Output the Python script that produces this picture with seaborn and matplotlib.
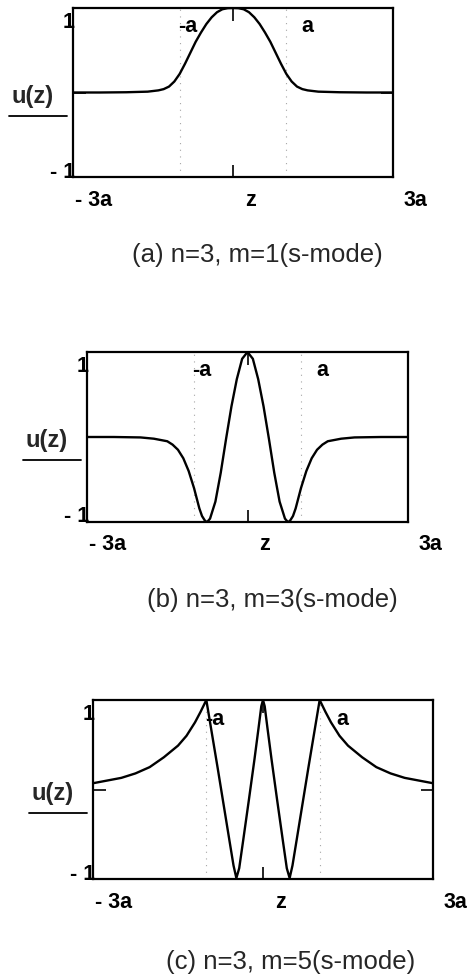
import matplotlib
matplotlib.use("Agg")
import matplotlib.pyplot as plt
import pandas as pd
import seaborn as sns

# Mode profiles u(z) on -3a..3a, z in units of a
z_a = [-3.0, -2.5, -2.0, -1.6, -1.4, -1.3, -1.2, -1.1, -1.0, -0.9, -0.8, -0.7, -0.6,
       -0.5, -0.4, -0.3, -0.2, -0.1, 0.0, 0.1, 0.2, 0.3, 0.4, 0.5, 0.6, 0.7, 0.8, 0.9,
       1.0, 1.1, 1.2, 1.3, 1.4, 1.6, 2.0, 2.5, 3.0]
u_a = [0.0, 0.0, 0.003, 0.01, 0.025, 0.04, 0.07, 0.13, 0.22, 0.34, 0.47, 0.60, 0.71,
       0.81, 0.89, 0.95, 0.985, 0.998, 1.0, 0.998, 0.985, 0.95, 0.89, 0.81, 0.71, 0.60,
       0.47, 0.34, 0.22, 0.13, 0.07, 0.04, 0.025, 0.01, 0.003, 0.0, 0.0]

z_b = [-3.0, -2.5, -2.0, -1.75, -1.5, -1.4, -1.3, -1.2, -1.1, -1.0, -0.9, -0.85, -0.8,
       -0.77, -0.74, -0.7, -0.6, -0.5, -0.4, -0.3, -0.2, -0.1, 0.0, 0.1, 0.2, 0.3, 0.4,
       0.5, 0.6, 0.7, 0.74, 0.77, 0.8, 0.85, 0.9, 1.0, 1.1, 1.2, 1.3, 1.4, 1.5, 1.75,
       2.0, 2.5, 3.0]
u_b = [0.0, 0.0, -0.005, -0.02, -0.05, -0.09, -0.15, -0.25, -0.40, -0.60, -0.84, -0.93,
       -0.98, -1.0, -0.99, -0.96, -0.76, -0.42, -0.02, 0.36, 0.68, 0.92, 1.0, 0.92, 0.68,
       0.36, -0.02, -0.42, -0.76, -0.96, -0.99, -1.0, -0.98, -0.93, -0.84, -0.60, -0.40,
       -0.25, -0.15, -0.09, -0.05, -0.02, -0.005, 0.0, 0.0]

z_c = [-3.0, -2.75, -2.5, -2.25, -2.0, -1.75, -1.5, -1.35, -1.2, -1.1, -1.0, -0.9, -0.8,
       -0.7, -0.6, -0.52, -0.47, -0.42, -0.35, -0.25, -0.15, -0.08, -0.03, 0.0, 0.03,
       0.08, 0.15, 0.25, 0.35, 0.42, 0.47, 0.52, 0.6, 0.7, 0.8, 0.9, 1.0, 1.1, 1.2, 1.35,
       1.5, 1.75, 2.0, 2.25, 2.5, 2.75, 3.0]
u_c = [0.07, 0.10, 0.13, 0.18, 0.25, 0.36, 0.49, 0.60, 0.75, 0.87, 1.0, 0.62, 0.24,
       -0.15, -0.54, -0.85, -0.99, -0.88, -0.57, -0.12, 0.34, 0.68, 0.93, 1.0, 0.93, 0.68,
       0.34, -0.12, -0.57, -0.88, -0.99, -0.85, -0.54, -0.15, 0.24, 0.62, 1.0, 0.87, 0.75,
       0.60, 0.49, 0.36, 0.25, 0.18, 0.13, 0.10, 0.07]

captions = ["(a) n=3, m=1(s-mode)", "(b) n=3, m=3(s-mode)", "(c) n=3, m=5(s-mode)"]
x_tick_labels = ["- 3a", "z", "3a"]
y_tick_labels = ["1", "- 1"]
marker_labels = ["-a", "a"]
marker_positions = [-1.0, 1.0]
y_title = "u(z)"

sns.set_theme(style="white")
plt.rcParams["font.family"] = ["Liberation Sans", "DejaVu Sans"]

W, H = 473, 976
fig = plt.figure(figsize=(W / 100, H / 100), dpi=100)

# axes boxes in pixels: left, top, right, bottom
boxes = [(73, 8, 393, 177), (87, 352, 408, 522), (93, 700, 433, 879)]
caption_offsets = [(24, -78), (25, -78), (28, -83)]
curves = [(z_a, u_a), (z_b, u_b), (z_c, u_c)]

lab_kw = dict(fontsize=15.5, fontweight="bold", color="black")


def put(ax, text, xy, off, coords="axes fraction", **kw):
    ax.annotate(text, xy=xy, xycoords=coords, xytext=off,
                textcoords="offset pixels", annotation_clip=False, **kw)


for (l, t, r, b), (zz, uu), cap, coff in zip(boxes, curves, captions, caption_offsets):
    ax = fig.add_axes([l / W, 1 - b / H, (r - l) / W, (b - t) / H])
    df = pd.DataFrame({"z": zz, "u": uu})
    for xm in marker_positions:
        ax.axvline(xm, color="0.65", lw=0.8, ls=(0, (1, 5)), zorder=1)
    sns.lineplot(data=df, x="z", y="u", ax=ax, color="black", lw=1.7,
                 sort=False, estimator=None, zorder=3)
    ax.set_xlim(-3, 3)
    ax.set_ylim(-1, 1)
    ax.set_xlabel("")
    ax.set_ylabel("")
    ax.set_xticks([0])
    ax.set_yticks([0])
    ax.tick_params(axis="x", direction="in", length=9, width=1.2, top=True,
                   bottom=True, labelbottom=False, color="black")
    ax.tick_params(axis="y", direction="in", length=9, width=1.2, left=True,
                   right=True, labelleft=False, color="black")
    for sp in ax.spines.values():
        sp.set_visible(True)
        sp.set_color("black")
        sp.set_linewidth(1.6)

    # limit labels on the axes
    put(ax, y_tick_labels[0], (0, 1), (2, -15), ha="right", va="center", **lab_kw)
    put(ax, y_tick_labels[1], (0, 0), (2, 5), ha="right", va="center", **lab_kw)
    put(ax, x_tick_labels[0], (0, 0), (2, -23), ha="left", va="center", **lab_kw)
    put(ax, x_tick_labels[1], (0.5, 0), (17, -23), ha="center", va="center", **lab_kw)
    put(ax, x_tick_labels[2], (1, 0), (34, -23), ha="right", va="center", **lab_kw)

    # marker labels next to the dotted lines
    put(ax, marker_labels[0], (-1.03, 0.78), (0, 0), coords="data",
        ha="left", va="center", **lab_kw)
    put(ax, marker_labels[1], (1.29, 0.78), (0, 0), coords="data",
        ha="left", va="center", **lab_kw)

    # y title with a rule under it
    put(ax, y_title, (0, 0.5), (-40, -4), ha="center", va="center",
        fontsize=17, fontweight="bold")
    px_per_z = (r - l) / 6
    px_per_u = (b - t) / 2
    ax.plot([-3 - 64 / px_per_z, -3 - 6 / px_per_z], [-23 / px_per_u] * 2,
            color="black", lw=1.3, clip_on=False)

    put(ax, cap, (0.5, 0), coff, ha="center", va="center", fontsize=18.5)

fig.savefig("out.png", dpi=100)
